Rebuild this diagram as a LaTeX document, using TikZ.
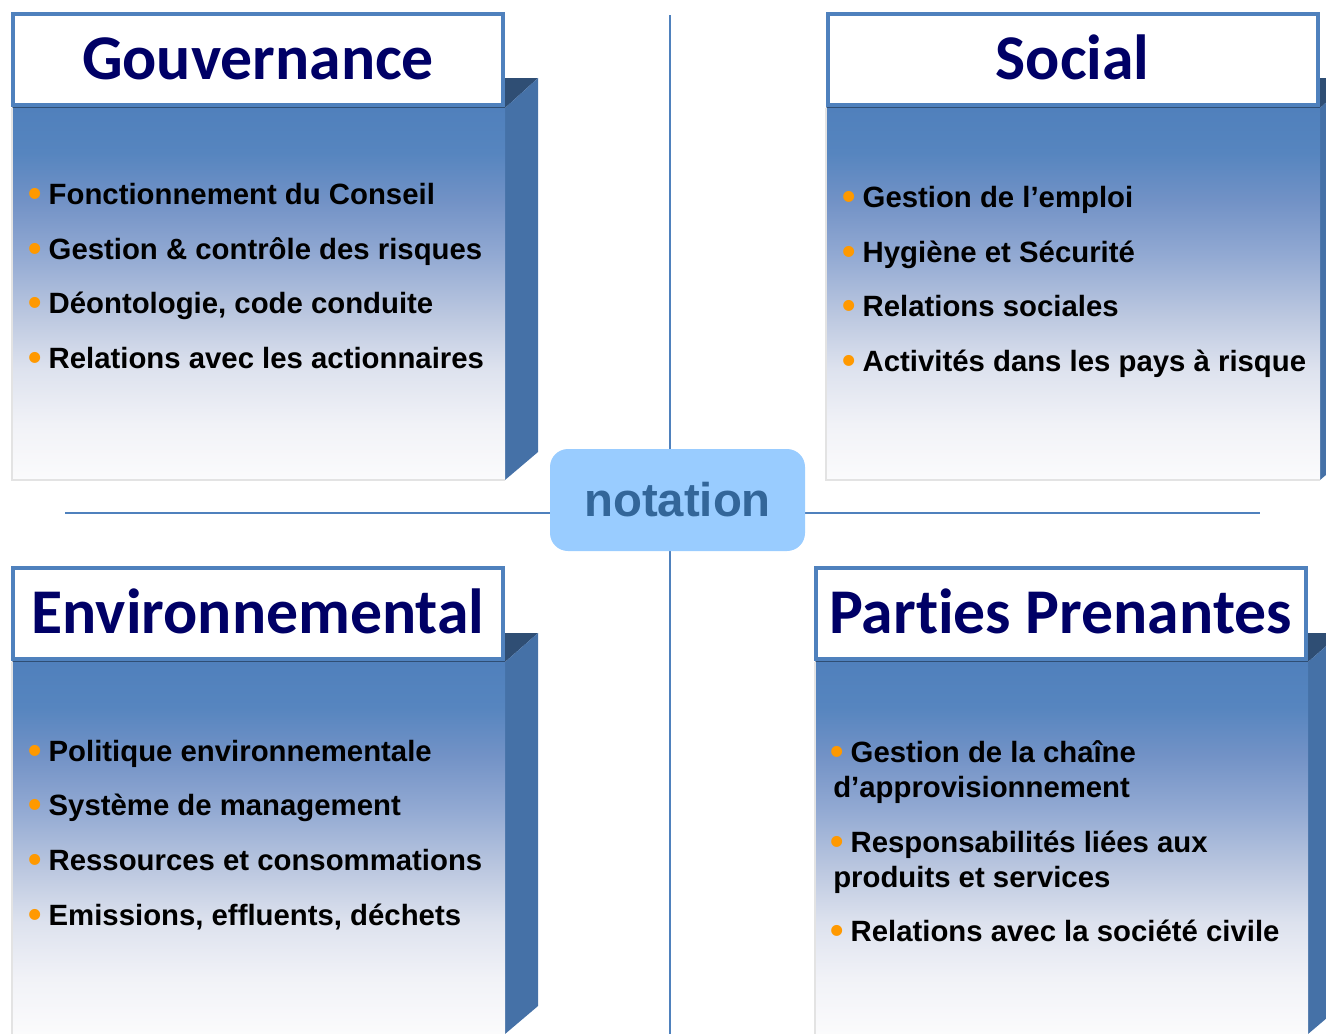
\documentclass[tikz,border=0pt]{standalone}
\usepackage{fontspec}
\setmainfont{Liberation Sans}
\newfontfamily\titrefont[Ligatures=NoCommon]{Carlito}
\usepackage{xcolor}
\usetikzlibrary{shadows}

\definecolor{bordbleu}{HTML}{4F81BD}
\definecolor{flanc}{HTML}{4571A7}
\definecolor{dessus}{HTML}{2F4E74}
\definecolor{marine}{HTML}{000066}
\definecolor{puce}{HTML}{FF9900}
\definecolor{notfond}{HTML}{99CCFF}
\definecolor{nottexte}{HTML}{336699}
\definecolor{fond1}{HTML}{5080BC}
\definecolor{fond2}{HTML}{5685BF}
\definecolor{fond3}{HTML}{7292C6}
\definecolor{fond4}{HTML}{93AAD3}
\definecolor{fond5}{HTML}{BCC8E0}
\definecolor{fond6}{HTML}{DDE2EE}
\definecolor{fond7}{HTML}{F1F2F7}
\definecolor{fond8}{HTML}{FBFBFC}

\pgfdeclareverticalshading{degrade}{100bp}{color(0bp)=(fond8); color(25bp)=(fond8);
  color(32.5bp)=(fond7); color(40bp)=(fond6); color(47bp)=(fond5); color(55bp)=(fond4);
  color(62.5bp)=(fond3); color(69bp)=(fond2); color(75bp)=(fond1); color(100bp)=(fond1)}

\newcommand{\puce}{\makebox[0.35em][c]{\raisebox{-0.08em}{\textcolor{puce}{\scalebox{1.3}{\textbullet}}}}\ }

\begin{document}
\begin{tikzpicture}[x=0.75pt, y=-0.75pt,
  font=\fontsize{22}{26.25}\selectfont\bfseries,
  titre/.style={draw=bordbleu, line width=3pt, fill=white, inner sep=0pt,
    minimum width=367.5pt, minimum height=68.25pt,
    font=\titrefont\fontsize{47.8}{50}\selectfont\bfseries, text=marine,
    text height=29.5pt, text depth=0pt,
    drop shadow={shadow xshift=1pt, shadow yshift=-1.5pt, opacity=0.4}},
  item/.style={anchor=base west, inner sep=0pt},
  ligne/.style={bordbleu, line width=1.3pt},
  corps/.style={shading=degrade},
  bord/.style={gray!22, line width=1.5pt}]
  \useasboundingbox (0,0) rectangle (1326,1033);
  \clip (0,0) rectangle (1326,1033);

  % Axes
  \coordinate (haut) at (670,15);
  \coordinate (bas) at (670,1040);
  \coordinate (gauche) at (65,513);
  \coordinate (droite) at (1260,513);
  \draw[ligne] (haut) -- (bas);
  \draw[ligne] (gauche) -- (droite);

  % Panel Gouvernance
  \fill[dessus] (12,108) -- (45,78) -- (538,78) -- (505,108) -- cycle;
  \fill[flanc] (505,108) -- (538,78) -- (538,452) -- (505,480) -- cycle;
  \shade[corps] (12,108) rectangle (505,480);
  \draw[bord] (12,108) -- (12,480) -- (505,480);
  \node[titre] (gouv) at (258,59.5) {Gouvernance};
  \node[item] (g1) at (30,204) {\puce Fonctionnement du Conseil};
  \node[item] (g2) at (30,259) {\puce Gestion \& contrôle des risques};
  \node[item] (g3) at (30,313) {\puce Déontologie, code conduite};
  \node[item] (g4) at (30,368) {\puce Relations avec les actionnaires};

  % Panel Social
  \fill[dessus] (826,108) -- (859,78) -- (1353,78) -- (1320,108) -- cycle;
  \fill[flanc] (1320,108) -- (1353,78) -- (1353,452) -- (1320,480) -- cycle;
  \shade[corps] (826,108) rectangle (1320,480);
  \draw[bord] (826,108) -- (826,480) -- (1320,480);
  \node[titre] (soc) at (1072.5,59.5) {Social};
  \node[item] (s1) at (844,207) {\puce Gestion de l’emploi};
  \node[item] (s2) at (844,262) {\puce Hygiène et Sécurité};
  \node[item] (s3) at (844,316) {\puce Relations sociales};
  \node[item] (s4) at (844,371) {\puce Activités dans les pays à risque};

  % Panel Environnemental
  \fill[dessus] (12,662) -- (45,633) -- (538,633) -- (505,662) -- cycle;
  \fill[flanc] (505,662) -- (538,633) -- (538,1006) -- (505,1034) -- cycle;
  \shade[corps] (12,662) rectangle (505,1034);
  \draw[bord] (12,662) -- (12,1034);
  \node[titre] (env) at (258,613.5) {Environnemental};
  \node[item] (e1) at (30,761) {\puce Politique environnementale};
  \node[item] (e2) at (30,815) {\puce Système de management};
  \node[item] (e3) at (30,870) {\puce Ressources et consommations};
  \node[item] (e4) at (30,925) {\puce Emissions, effluents, déchets};

  % Panel Parties Prenantes
  \fill[dessus] (815,662) -- (848,633) -- (1341,633) -- (1308,662) -- cycle;
  \fill[flanc] (1308,662) -- (1341,633) -- (1341,1006) -- (1308,1034) -- cycle;
  \shade[corps] (815,662) rectangle (1308,1034);
  \draw[bord] (815,662) -- (815,1034);
  \node[titre] (pp) at (1060.5,613.5) {Parties Prenantes};
  \node[item] (p1) at (832,762) {\puce Gestion de la chaîne};
  \node[item] (p1b) at (833,797) {d’approvisionnement};
  \node[item] (p2) at (832,852) {\puce Responsabilités liées aux};
  \node[item] (p2b) at (833,887) {produits et services};
  \node[item] (p3) at (832,941) {\puce Relations avec la société civile};

  % Centre
  \node[fill=notfond, rounded corners=13.5pt, minimum width=191.25pt, minimum height=76.5pt,
    font=\fontsize{35.5}{40}\selectfont\bfseries, text=nottexte] (nota) at (677.5,500) {notation};
\end{tikzpicture}
\end{document}
